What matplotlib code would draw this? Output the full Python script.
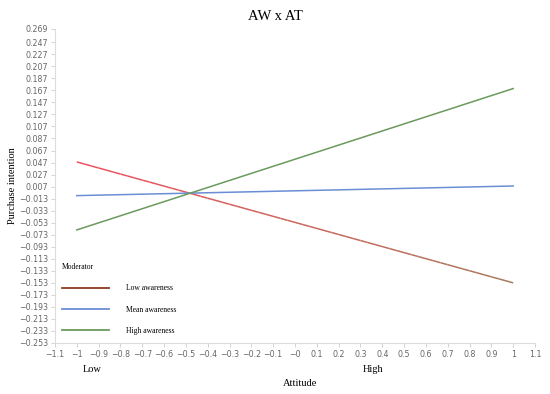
import numpy as np
import matplotlib
matplotlib.use("Agg")
import matplotlib.pyplot as plt
from matplotlib.collections import LineCollection
from matplotlib.lines import Line2D
from matplotlib.colors import to_rgb

attitude = [-1, 1]
low_aw = [0.048, -0.153]
mean_aw = [-0.008, 0.008]
high_aw = [-0.065, 0.170]
series_names = ["Low awareness", "Mean awareness", "High awareness"]
yticks = [0.269] + [round(0.247 - 0.02 * i, 3) for i in range(26)]
xticks = [round(-1.1 + 0.1 * i, 1) for i in range(23)]

fig = plt.figure(figsize=(5.5, 3.94), dpi=100)
ax = fig.add_axes([55 / 550, 51 / 394, 480 / 550, 314 / 394])
ax.set_xlim(-1.1, 1.1)
ax.set_ylim(-0.253, 0.269)

# Low awareness: gradient red -> brown
c0 = np.array(to_rgb("#f0505e"))
c1 = np.array(to_rgb("#a87a5c"))
n = 60
t = np.linspace(0, 1, n + 1)
xs = attitude[0] + (attitude[1] - attitude[0]) * t
ys = low_aw[0] + (low_aw[1] - low_aw[0]) * t
segs = [[(xs[i], ys[i]), (xs[i + 1], ys[i + 1])] for i in range(n)]
cols = [tuple(c0 + (c1 - c0) * (i + 0.5) / n) for i in range(n)]
ax.add_collection(LineCollection(segs, colors=cols, linewidths=1.1))

ax.plot(attitude, mean_aw, color="#6a8ed6", lw=1.1)
ax.plot(attitude, high_aw, color="#6a9a5e", lw=1.1)

for s in ["top", "right"]:
    ax.spines[s].set_visible(False)
for s in ["left", "bottom"]:
    ax.spines[s].set_color("#dddddd")
    ax.spines[s].set_linewidth(0.8)

ax.set_yticks(yticks)
ax.set_yticklabels([f"{v:.3f}".replace("-", "\u2212") for v in yticks])
ax.set_xticks(xticks)
xl = []
for v in xticks:
    if abs(v) < 1e-9:
        xl.append("\u22120")
    elif abs(abs(v) - 1) < 1e-9:
        xl.append(("\u2212" if v < 0 else "") + "1")
    else:
        xl.append(f"{v:g}".replace("-", "\u2212"))
ax.set_xticklabels(xl)
ax.tick_params(axis="both", labelsize=5.7, colors="#666666", length=3, width=0.6, pad=2)
ax.tick_params(axis="both", color="#cccccc")

serif = ["Liberation Serif", "DejaVu Serif"]
fig.text(0.5, 1 - 16 / 394, "AW x AT", ha="center", va="center", family=serif, fontsize=10.5)
fig.text(13 / 550, 1 - 186 / 394, "Purchase intention", rotation=90, ha="center", va="center",
         family=serif, fontsize=7.5)
fig.text(300 / 550, 1 - 383 / 394, "Attitude", ha="center", va="center", family=serif, fontsize=7.5)
fig.text(92 / 550, 1 - 370 / 394, "Low", ha="center", va="center", family=serif, fontsize=7.5)
fig.text(373 / 550, 1 - 370 / 394, "High", ha="center", va="center", family=serif, fontsize=7.5)

handles = [Line2D([], [], color="#8a3a20", lw=1.3),
           Line2D([], [], color="#6a8ed6", lw=1.3),
           Line2D([], [], color="#6a9a5e", lw=1.3)]
leg = ax.legend(handles, series_names, title="Moderator", loc="upper left",
                bbox_to_anchor=(0.0, 1 - (256 - 29) / 314), frameon=False,
                prop={"family": serif, "size": 5.5}, handlelength=6.2, handletextpad=2.2,
                labelspacing=1.75, alignment="left")
leg.get_title().set_fontfamily(serif)
leg.get_title().set_fontsize(5.5)

fig.savefig("out.png", dpi=100)
